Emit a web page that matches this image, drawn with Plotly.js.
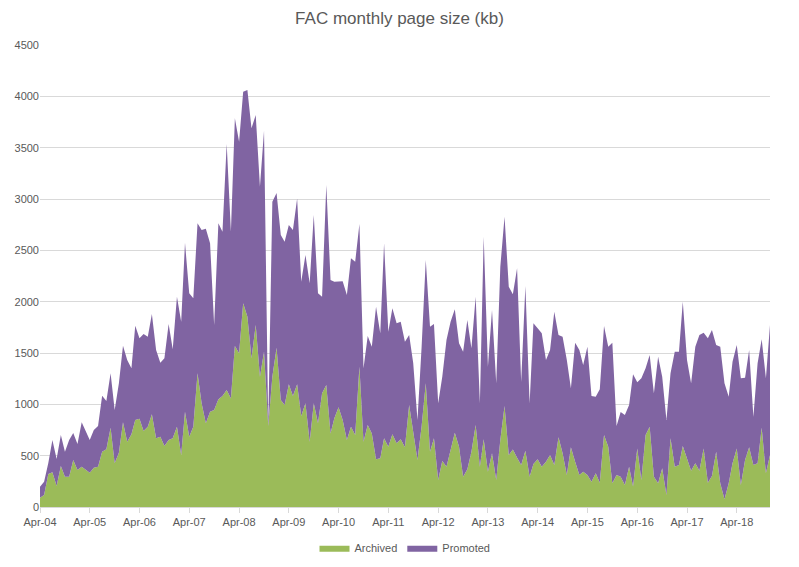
<!DOCTYPE html>
<html>
<head>
<meta charset="utf-8">
<script src="https://cdn.plot.ly/plotly-3.0.1.min.js"></script>
<style>html,body{margin:0;padding:0;background:#fff;}#chart{width:799px;height:567px;}</style>
</head>
<body>
<div id="chart"></div>
<script>
// First month of the series and number of months (Apr-04 .. Dec-18)
const startYear = 2004, startMonth = 4, monthCount = 177;

const archived = [
  91,117,321,338,204,399,295,295,458,360,393,367,
  334,383,393,539,562,772,425,529,825,636,708,848,
  860,740,782,903,669,685,594,652,669,782,506,928,
  685,782,1302,1010,815,928,945,1049,1081,1140,1058,1568,
  1497,1984,1854,1448,1773,1269,1513,790,1269,1550,1042,993,
  1195,1081,1195,886,1010,636,1010,815,1107,1188,717,864,
  971,847,652,782,701,1367,636,799,717,464,474,669,
  587,708,620,659,581,993,750,458,782,1205,539,669,
  263,448,393,555,724,587,295,367,539,799,393,659,
  344,523,263,652,984,506,560,480,409,549,295,419,
  464,393,441,506,409,679,523,312,581,441,312,344,
  312,247,328,237,701,587,231,312,295,214,393,200,
  571,263,701,782,295,231,377,117,669,393,409,594,
  464,354,425,354,571,237,302,539,231,75,231,425,
  571,214,458,581,409,425,772,328,506
];

const promoted = [
  107,130,107,314,263,302,244,357,263,254,432,383,
  318,367,396,545,470,530,520,676,746,796,643,918,
  783,945,877,977,861,721,854,1130,867,1266,1299,1646,
  1396,1251,1461,1688,1895,1640,828,1714,1601,2396,1624,2218,
  2061,2061,2208,2240,2045,1851,2152,10,1705,1508,1607,1591,
  1552,1617,1811,1308,1444,1543,1834,1266,941,1948,1494,1330,
  1223,1353,1413,1640,1688,1389,715,867,844,1487,1218,1899,
  1121,1227,1169,1146,1029,682,649,389,768,1201,1217,1113,
  747,821,1234,1250,1202,1007,1218,1454,1007,1249,617,1974,
  1023,1396,942,1689,1844,1640,1513,1845,812,1604,715,1370,
  1276,1299,991,1023,1494,996,1136,1120,575,1159,1217,1039,
  1249,834,746,909,1062,974,1369,477,630,682,600,1094,
  645,990,650,698,812,1233,892,730,633,1120,1104,1406,
  968,851,1136,1321,1127,1406,1422,1039,1330,1130,843,990,
  1007,1039,801,948,471,974,861,925,1267
];

const yTicks = [0,500,1000,1500,2000,2500,3000,3500,4000,4500];

// month categories
const months = [];
for (let k = 0; k < monthCount; k++) {
  const m0 = startMonth - 1 + k;
  const y = startYear + Math.floor(m0 / 12);
  const m = (m0 % 12) + 1;
  months.push(y + '-' + String(m).padStart(2, '0') + '-01');
}

const font = 'Liberation Sans, Arial, sans-serif';
const traces = [
  {x: months, y: archived, name: 'Archived', type: 'scatter', mode: 'lines',
   stackgroup: 'one', line: {width: 0, color: '#9BBB59'}, fillcolor: '#9BBB59', hoverinfo: 'skip'},
  {x: months, y: promoted, name: 'Promoted', type: 'scatter', mode: 'lines',
   stackgroup: 'one', line: {width: 0, color: '#8064A2'}, fillcolor: '#8064A2', hoverinfo: 'skip'}
];

const layout = {
  width: 799, height: 567,
  margin: {l: 40, r: 29, t: 45, b: 60, autoexpand: false},
  paper_bgcolor: '#fff', plot_bgcolor: '#fff',
  font: {family: font, size: 11, color: '#595959'},
  title: {text: 'FAC monthly page size (kb)', x: 0.5, xanchor: 'center', y: 0.968, yanchor: 'middle',
          font: {family: font, size: 17, color: '#595959'}},
  showlegend: true,
  legend: {orientation: 'h', x: 0.5, xanchor: 'center', y: -0.088, yanchor: 'middle',
           itemwidth: 30, font: {family: font, size: 11, color: '#595959'}, traceorder: 'normal'},
  xaxis: {type: 'date', range: [months[0], months[months.length - 1]],
          tick0: '2004-04-01', dtick: 'M12', tickformat: '%b-%y',
          ticks: 'outside', ticklen: 5, tickcolor: '#d9d9d9',
          showline: true, linecolor: '#d9d9d9', linewidth: 1,
          showgrid: false, zeroline: false, tickfont: {size: 11, color: '#595959'}},
  yaxis: {range: [0, 4500], tickvals: yTicks, ticktext: yTicks.map(String),
          showgrid: true, gridcolor: '#d9d9d9', gridwidth: 1,
          showline: false, zeroline: false, ticks: '', tickfont: {size: 11, color: '#595959'}}
};

Plotly.newPlot('chart', traces, layout, {displayModeBar: false, staticPlot: true});
</script>
</body>
</html>
